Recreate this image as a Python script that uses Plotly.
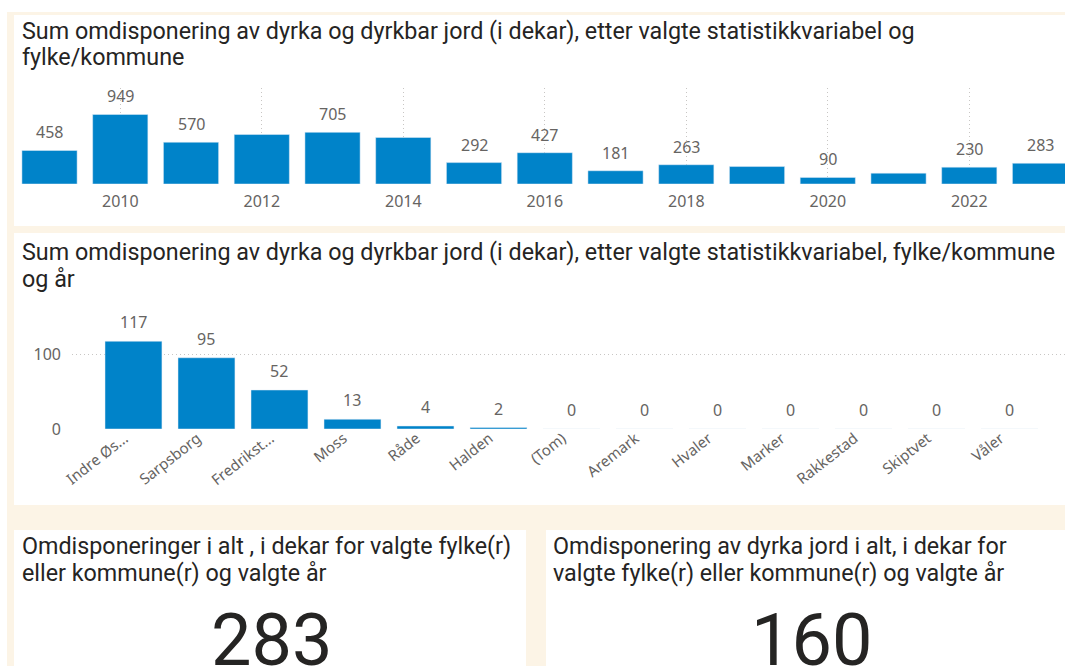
import plotly.graph_objects as go

W, H = 1065, 666

# ---------------- data ----------------
years = [2009, 2010, 2011, 2012, 2013, 2014, 2015, 2016, 2017, 2018, 2019, 2020, 2021, 2022, 2023]
year_values = [458, 949, 570, 675, 705, 635, 292, 427, 181, 263, 238, 90, 148, 230, 283]
years_without_label = [2012, 2014, 2019, 2021]

municipalities = ["Indre Øs...", "Sarpsborg", "Fredrikst...", "Moss", "Råde", "Halden", "(Tom)",
                  "Aremark", "Hvaler", "Marker", "Rakkestad", "Skiptvet", "Våler"]
municipality_values = [117, 95, 52, 13, 4, 2, 0, 0, 0, 0, 0, 0, 0]

title_top = ["Sum omdisponering av dyrka og dyrkbar jord (i dekar), etter valgte statistikkvariabel og",
             "fylke/kommune"]
title_mid = ["Sum omdisponering av dyrka og dyrkbar jord (i dekar), etter valgte statistikkvariabel, fylke/kommune",
             "og år"]
kpi_left_title = ["Omdisponeringer i alt , i dekar for valgte fylke(r)", "eller kommune(r) og valgte år"]
kpi_left_value = 283
kpi_right_title = ["Omdisponering av dyrka jord i alt, i dekar for", "valgte fylke(r) eller kommune(r) og valgte år"]
kpi_right_value = 160

# ---------------- styles ----------------
BLUE = "#0083C9"
CREAM = "#FCF4E6"
DARK = "#252423"
GREY = "#666462"
GRID = "#C8C6C4"
TITLE_FONT = "Roboto, 'DejaVu Sans', sans-serif"
LABEL_FONT = "'Noto Sans', 'Open Sans', sans-serif"


def px(x):
    return x / W


def py(y):
    return 1 - y / H


fig = go.Figure()

fig.add_trace(go.Bar(x=years, y=year_values, marker_color=BLUE, width=0.78,
                     xaxis="x", yaxis="y", hoverinfo="x+y"))
fig.add_trace(go.Bar(x=municipalities, y=municipality_values, marker_color=BLUE, width=0.78,
                     xaxis="x2", yaxis="y2", hoverinfo="x+y"))

shapes = [
    dict(type="rect", xref="paper", yref="paper", x0=px(7), x1=1, y0=0, y1=py(12),
         fillcolor=CREAM, line_width=0, layer="below"),
    dict(type="rect", xref="paper", yref="paper", x0=px(14), x1=1, y0=py(226), y1=py(15),
         fillcolor="white", line_width=0, layer="below"),
    dict(type="rect", xref="paper", yref="paper", x0=px(14), x1=1, y0=py(505), y1=py(233),
         fillcolor="white", line_width=0, layer="below"),
    dict(type="rect", xref="paper", yref="paper", x0=px(14), x1=px(526), y0=0, y1=py(530),
         fillcolor="white", line_width=0, layer="below"),
    dict(type="rect", xref="paper", yref="paper", x0=px(546), x1=1, y0=0, y1=py(530),
         fillcolor="white", line_width=0, layer="below"),
]

annotations = []


def add_title(lines, x, y_first, size=23.3, gap=26.5):
    for i, line in enumerate(lines):
        annotations.append(dict(xref="paper", yref="paper", x=px(x), y=py(y_first + i * gap),
                                xanchor="left", yanchor="middle", text=line, showarrow=False,
                                font=dict(family=TITLE_FONT, size=size, color=DARK)))


add_title(title_top, 20, 31)
add_title(title_mid, 20, 252)
add_title(kpi_left_title, 20, 546)
add_title(kpi_right_title, 551, 546)

annotations.append(dict(xref="paper", yref="paper", x=px(271), y=py(640), xanchor="center",
                        yanchor="middle", text=str(kpi_left_value), showarrow=False,
                        font=dict(family=TITLE_FONT, size=72, color=DARK)))
annotations.append(dict(xref="paper", yref="paper", x=px(812), y=py(640), xanchor="center",
                        yanchor="middle", text=str(kpi_right_value), showarrow=False,
                        font=dict(family=TITLE_FONT, size=72, color=DARK)))

for yr, v in zip(years, year_values):
    if yr in years_without_label:
        continue
    annotations.append(dict(xref="x", yref="y", x=yr, y=v, text=str(v), showarrow=False,
                            yanchor="middle", yshift=18,
                            font=dict(family=LABEL_FONT, size=16, color=GREY)))

for m, v in zip(municipalities, municipality_values):
    annotations.append(dict(xref="x2", yref="y2", x=m, y=v, text=str(v), showarrow=False,
                            yanchor="middle", yshift=19,
                            font=dict(family=LABEL_FONT, size=16, color=GREY)))

tickfont = dict(family=LABEL_FONT, size=16, color=GREY)
cat_tickfont = dict(family=LABEL_FONT, size=15, color=GREY)

fig.update_layout(
    width=W, height=H, autosize=False,
    margin=dict(l=0, r=0, t=0, b=0, pad=0),
    paper_bgcolor="white", plot_bgcolor="rgba(0,0,0,0)",
    showlegend=False,
    shapes=shapes, annotations=annotations,
    xaxis=dict(domain=[px(14), 1], range=[2008.498, 2023.353], tickmode="linear", tick0=2010, dtick=2,
               showgrid=True, gridcolor=GRID, griddash="1px,3px", gridwidth=1, zeroline=False,
               showline=False, ticks="", tickfont=tickfont, ticklabelstandoff=6,
               automargin=False, anchor="y", fixedrange=True),
    yaxis=dict(domain=[py(184), py(88)], range=[0, 1310], visible=False, showgrid=False,
               automargin=False, anchor="x", fixedrange=True),
    xaxis2=dict(domain=[px(72), 1], range=[-0.842, 12.76], type="category", showgrid=False,
                zeroline=False, showline=False, ticks="", tickangle=-38, tickfont=cat_tickfont,
                ticklabelstandoff=-3, ticklabelshift=-9, automargin=False,
                anchor="y2", fixedrange=True),
    yaxis2=dict(domain=[py(429), py(300)], range=[0, 172], tickmode="linear", tick0=0, dtick=100,
                showgrid=True, gridcolor=GRID, griddash="1px,3px", gridwidth=1, zeroline=False,
                showline=False, ticks="", tickfont=tickfont, ticklabelstandoff=10,
                automargin=False, anchor="x2", fixedrange=True),
)

page_fix = (
    "document.documentElement.style.margin='0';"
    "document.documentElement.style.padding='0';"
    "document.documentElement.style.overflow='hidden';"
    "document.body.style.margin='0';"
    "document.body.style.padding='0';"
    "document.body.style.overflow='hidden';"
)

fig.write_html("out.html", config={"displayModeBar": False}, post_script=page_fix)
